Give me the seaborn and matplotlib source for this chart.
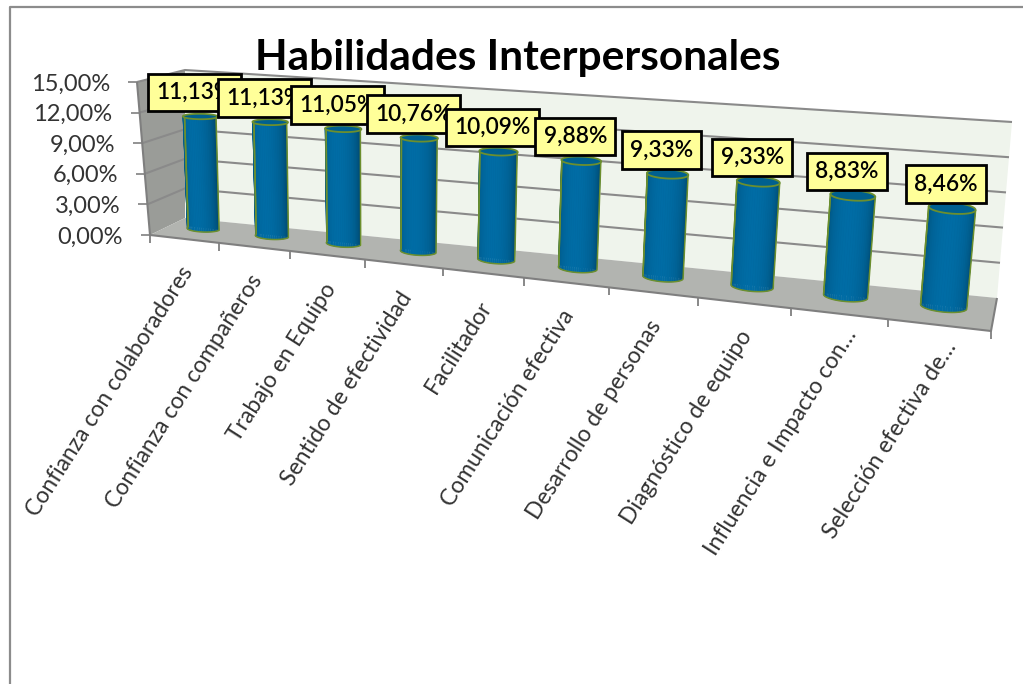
import numpy as np
import matplotlib
matplotlib.use('Agg')
import matplotlib.pyplot as plt
from matplotlib.transforms import Affine2D, Transform
import seaborn as sns

categories = ['Confianza con colaboradores', 'Confianza con compañeros', 'Trabajo en Equipo',
              'Sentido de efectividad', 'Facilitador', 'Comunicación efectiva',
              'Desarrollo de personas', 'Diagnóstico de equipo',
              'Influencia e Impacto con…', 'Selección efectiva de…']
values = [11.13, 11.13, 11.05, 10.76, 10.09, 9.88, 9.33, 9.33, 8.83, 8.46]
value_labels = ['11,13%', '11,13%', '11,05%', '10,76%', '10,09%', '9,88%', '9,33%', '9,33%', '8,83%', '8,46%']
y_ticks = [0, 3, 6, 9, 12, 15]
y_labels = ['0,00%', '3,00%', '6,00%', '9,00%', '12,00%', '15,00%']
title = 'Habilidades Interpersonales'

W, H = 1023, 684
Y_MAX = 15.0
BAR_DEPTH = 0.58
PERSP = 1.25

# box corners in image pixels: (front/back, left/right, bottom/top)
FLB, FLT = np.array([150, 235.]), np.array([137, 82.])
BLB, BLT = np.array([185, 218.]), np.array([185, 70.])
BRB, BRT = np.array([997, 298.]), np.array([1012, 122.])
FRB, FRT = np.array([991, 331.]), np.array([1009, 155.])


def warp_u(u):
    return u / (u + PERSP * (1 - u))


# pos is seaborn's category position, v the percent value, d 0=front 1=back
def project(pos, v, d):
    pos, v, d = np.broadcast_arrays(np.asarray(pos, float), np.asarray(v, float), np.asarray(d, float))
    s = warp_u((pos + 0.5) / len(categories))[..., None]
    t = (v / Y_MAX)[..., None]
    d = d[..., None]
    bottom = (1 - d) * ((1 - s) * FLB + s * FRB) + d * ((1 - s) * BLB + s * BRB)
    top = (1 - d) * ((1 - s) * FLT + s * FRT) + d * ((1 - s) * BLT + s * BRT)
    return bottom + (top - bottom) * t


class BarPlane(Transform):
    input_dims = 2
    output_dims = 2
    is_affine = False
    has_inverse = False

    def transform_non_affine(self, values):
        values = np.asarray(values, float)
        out = project(values[:, 0], values[:, 1], BAR_DEPTH)
        out[:, 1] = H - out[:, 1]
        return out


sns.set_theme(style='white')
plt.rcParams['font.family'] = ['Lato', 'DejaVu Sans']

fig, ax = plt.subplots(figsize=(W / 100, H / 100), dpi=100)
fig.subplots_adjust(0, 0, 1, 1)

sns.barplot(x=categories, y=values, color='#006699', width=0.46, saturation=1, ax=ax)
bars = list(ax.patches)
ax.axis('off')
ax.set_xlim(-0.5, 9.5)
ax.set_ylim(0, Y_MAX)

pix = Affine2D().scale(1, -1).translate(0, H)
plane = BarPlane()
for b in bars:
    b.set_transform(plane)
    b.set_clip_on(False)
    b.set_zorder(3)


def poly(pts, **kw):
    pts = np.asarray(pts)
    ax.fill(pts[:, 0], pts[:, 1], transform=pix, clip_on=False, **kw)


def line(pts, **kw):
    pts = np.asarray(pts)
    ax.plot(pts[:, 0], pts[:, 1], transform=pix, clip_on=False, solid_capstyle='butt', **kw)


# chart frame
line([(10, H + 5), (10, 7), (W + 5, 7)], color='#8c8c8c', lw=1.6, zorder=1)

# walls and floor
poly([FLB, FLT, BLT, BLB], facecolor='#9a9c98', edgecolor='none', zorder=1)
poly([BLB, BLT, BRT, BRB], facecolor='#eff4ec', edgecolor='none', zorder=1)
poly([FLB, BLB, BRB, FRB], facecolor='#b2b4b0', edgecolor='none', zorder=1)

xl, xr = -0.5, 9.5
for v, lab in zip(y_ticks, y_labels):
    front = project(xl, v, 0)
    back = project(xl, v, 1)
    right = project(xr, v, 1)
    if v > 0:
        line([front, back, right], color='#8a8a8a', lw=1.5, zorder=2)
    line([front, front - np.array([9, 0])], color='#8a8a8a', lw=1.3, zorder=2)
    ax.text(front[0] - 27, front[1] + 2, lab, transform=pix, ha='right', va='center',
            fontsize=17, color='#333333', clip_on=False)

# front edge and ticks
line([FLT, FLB, FRB, BRB], color='#7f7f7f', lw=1.5, zorder=2)
for i in range(len(categories) + 1):
    p = project(i - 0.5, 0, 0)
    line([p, p + np.array([0, 8])], color='#7f7f7f', lw=1.3, zorder=2)

edge_col = '#6c8f2e'
dark, light = np.array([0, 66, 100]) / 255, np.array([0, 108, 165]) / 255
ang = np.linspace(np.pi, 0, 29)

for i, b in enumerate(bars):
    cx = b.get_x() + b.get_width() / 2
    r = b.get_width() / 2
    v = b.get_height()
    rd = 0.17
    ox, od = cx + r * np.cos(ang), BAR_DEPTH - rd * np.sin(ang)
    low = project(ox, 0, od)
    high = project(ox, v, od)
    # cylinder body in strips, darker at both edges
    for k in range(len(ang) - 1):
        m = np.sin((ang[k] + ang[k + 1]) / 2) ** 0.7
        col = dark + (light - dark) * m
        poly([low[k], low[k + 1], high[k + 1], high[k]], facecolor=col, edgecolor=col, lw=0.3, zorder=3.2)
    line(np.vstack([high[0], low, high[-1]]), color=edge_col, lw=1.1, zorder=3.4)
    line([high[0], low[0]], color=edge_col, lw=1.1, zorder=3.4)
    # top cap
    a2 = np.linspace(0, 2 * np.pi, 50)
    cap = project(cx + r * np.cos(a2), v, BAR_DEPTH + rd * np.sin(a2))
    poly(cap, facecolor='#00608f', edgecolor=edge_col, lw=1.3, zorder=3.5)

    top = project(cx, v, BAR_DEPTH)
    ax.text(top[0] - 6, top[1] - 24, value_labels[i], transform=pix, ha='center', va='center',
            fontsize=16.4, color='black', fontweight='semibold', zorder=5 + i * 0.1, clip_on=False,
            bbox=dict(boxstyle='square,pad=0.36', facecolor='#ffff99', edgecolor='black', lw=2))

    # the two shortened labels sit higher and further right in the reference
    g = project(cx, 0, 0)
    dx, dy = (-5, 24) if i < 8 else (4, 12)
    ax.text(g[0] + dx, g[1] + dy, categories[i], transform=pix, ha='right', va='top', rotation=57.5,
            rotation_mode='anchor', fontsize=16.5, color='#333333', clip_on=False)

ax.text(518, 58, title, transform=pix, ha='center', va='center', fontsize=30.5,
        fontweight='bold', color='black', zorder=4, clip_on=False)

fig.savefig('out.png', dpi=100)
